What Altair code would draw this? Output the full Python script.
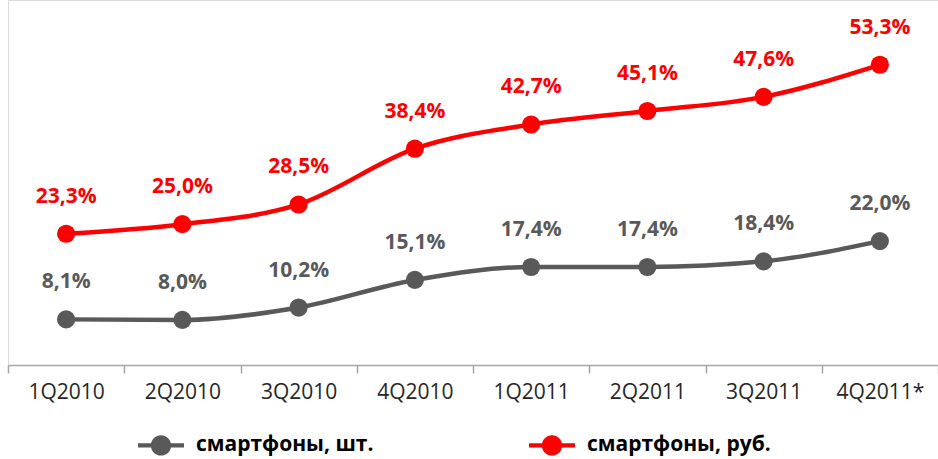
import altair as alt
import pandas as pd

quarters = ["1Q2010", "2Q2010", "3Q2010", "4Q2010", "1Q2011", "2Q2011", "3Q2011", "4Q2011*"]
units = [8.1, 8.0, 10.2, 15.1, 17.4, 17.4, 18.4, 22.0]
rubles = [23.3, 25.0, 28.5, 38.4, 42.7, 45.1, 47.6, 53.3]
series_names = ["смартфоны, шт.", "смартфоны, руб."]
series_colors = ["#595959", "#ff0000"]

rows = []
for name, vals in zip(series_names, [units, rubles]):
    for q, v in zip(quarters, vals):
        rows.append({"q": q, "v": v, "s": name, "lbl": f"{v:.1f}%".replace(".", ",")})
df = pd.DataFrame(rows)

x = alt.X("q:N", sort=quarters, title=None,
          scale=alt.Scale(paddingInner=0, paddingOuter=0),
          axis=alt.Axis(tickBand="extent", labelAngle=0, labelFont="Open Sans",
                        labelFontSize=21, labelColor="#262626", labelPadding=8,
                        domainColor="#a6a6a6", domainWidth=1.5, tickColor="#a6a6a6",
                        tickWidth=1.5, tickSize=8, grid=False))
y = alt.Y("v:Q", scale=alt.Scale(domain=[0, 64.8], nice=False, zero=True), axis=None)

symbol_path = ("M-1,-0.09H1V0.09H-1Z "
               "M0,-0.44A0.44,0.44 0 1,1 0,0.44A0.44,0.44 0 1,1 0,-0.44Z")

color = alt.Color("s:N", scale=alt.Scale(domain=series_names, range=series_colors),
                  sort=series_names,
                  legend=alt.Legend(orient="none", legendX=130, legendY=422,
                                    direction="horizontal", title=None,
                                    symbolType=symbol_path, symbolSize=2116,
                                    symbolStrokeWidth=0, labelFont="Open Sans",
                                    labelFontSize=21, labelFontWeight="bold",
                                    labelColor="#000000", labelOffset=12,
                                    columnPadding=155, labelLimit=400))

base = alt.Chart(df).encode(x=x, y=y)
line = base.mark_line(interpolate="monotone", strokeWidth=4.5).encode(color=color)
pts = base.mark_circle(size=330, opacity=1).encode(color=alt.Color("s:N", scale=alt.Scale(domain=series_names, range=series_colors), legend=None))
txt = base.mark_text(dy=-37, font="Open Sans", fontSize=21, fontWeight="bold").encode(
    text="lbl:N",
    color=alt.Color("s:N", scale=alt.Scale(domain=series_names, range=series_colors), legend=None))

chart = alt.layer(line, pts, txt).properties(
    width=930, height=365,
    autosize=alt.AutoSizeParams(type="none"),
    padding={"left": 8, "top": 0, "right": 0, "bottom": 94},
).configure_view(stroke=None).configure(background="white")

chart.save("out.html", embed_options={"renderer": "svg", "actions": False})
